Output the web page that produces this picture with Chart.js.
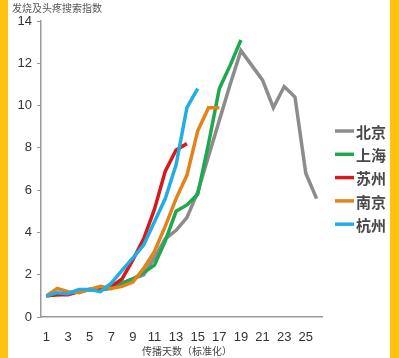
<!DOCTYPE html>
<html>
<head>
<meta charset="utf-8">
<script src="https://cdn.jsdelivr.net/npm/chart.js@4/dist/chart.umd.min.js"></script>
<style>
  body { margin: 0; background: #fff; }
  #wrap { position: relative; width: 399px; height: 358px; overflow: hidden; }
  #chart { position: absolute; left: 0; top: 0; }
  .bar { position: absolute; top: 0; height: 358px; background: #FFC20E; }
</style>
</head>
<body>
<div id="wrap">
  <canvas id="chart" width="399" height="358"></canvas>
  <div class="bar" style="left:0;width:8px"></div>
  <div class="bar" style="left:390px;width:9px"></div>
</div>
<script>
// days since spread start (standardised)
const days = [];
for (let d = 1; d <= 26; d++) days.push(d);

const chartTitle = '发烧及头疼搜索指数';
const xTitle = '传播天数（标准化）';
const cities = ['北京', '上海', '苏州', '南京', '杭州'];
const colors = ['#8C8C8C', '#1FA84F', '#D7191E', '#E2831C', '#21AFE3'];

const beijing = [1.0, 1.05, 1.1, 1.25, 1.3, 1.3, 1.5, 1.6, 1.8, 2.0, 2.8, 3.7, 4.1, 4.7, 5.9, 7.6, 9.3, 11.0, 12.6, 11.9, 11.2, 9.9, 10.9, 10.4, 6.8, 5.6];
const shanghai = [1.0, 1.1, 1.1, 1.2, 1.3, 1.3, 1.35, 1.6, 1.8, 2.1, 2.45, 3.6, 5.0, 5.3, 5.8, 8.2, 10.8, 11.9, 13.1];
const suzhou = [1.0, 1.05, 1.05, 1.2, 1.3, 1.3, 1.45, 1.8, 2.7, 3.7, 5.1, 6.9, 7.9, 8.2];
const nanjing = [1.0, 1.35, 1.2, 1.15, 1.3, 1.45, 1.35, 1.45, 1.65, 2.3, 3.1, 4.3, 5.6, 6.7, 8.8, 9.9, 9.9];
const hangzhou = [1.0, 1.15, 1.1, 1.3, 1.3, 1.2, 1.6, 2.2, 2.8, 3.4, 4.5, 5.6, 7.2, 9.9, 10.8];
const series = [beijing, shanghai, suzhou, nanjing, hangzhou];

const yTicks = [0, 2, 4, 6, 8, 10, 12, 14];

const font = '"Noto Sans CJK SC", "Noto Sans", sans-serif';
const numFont = '"Liberation Sans", Arial, sans-serif';

// title, x axis title and legend drawn on the canvas
const extras = {
  id: 'extras',
  afterDraw(chart) {
    const ctx = chart.ctx;
    ctx.save();
    ctx.fillStyle = '#555';
    ctx.font = '10px ' + font;
    ctx.textBaseline = 'middle';
    ctx.textAlign = 'left';
    ctx.fillText(chartTitle, 12, 8);

    ctx.fillStyle = '#444';
    ctx.textAlign = 'center';
    ctx.fillText(xTitle, 187, 351);

    ctx.textAlign = 'left';
    ctx.font = 'bold 15px ' + font;
    cities.forEach((name, i) => {
      const y = 131 + i * 23.3;
      ctx.strokeStyle = colors[i];
      ctx.lineWidth = 3.5;
      ctx.beginPath();
      ctx.moveTo(335, y);
      ctx.lineTo(354, y);
      ctx.stroke();
      ctx.fillStyle = '#484848';
      ctx.fillText(name, 356, y + 1);
    });
    ctx.restore();
  }
};

new Chart(document.getElementById('chart'), {
  type: 'line',
  data: {
    labels: days,
    datasets: cities.map((name, i) => ({
      label: name,
      data: series[i],
      borderColor: colors[i],
      borderWidth: 3.5,
      pointRadius: 0,
      tension: 0,
      fill: false,
      order: cities.length - i
    }))
  },
  options: {
    responsive: false,
    animation: false,
    layout: { padding: { left: 0, right: 77, top: 21, bottom: 0 } },
    plugins: {
      legend: { display: false },
      tooltip: { enabled: false }
    },
    scales: {
      x: {
        offset: true,
        grid: { display: false },
        border: { display: true, color: '#9a9a9a', width: 1.5 },
        ticks: {
          autoSkip: false,
          maxRotation: 0,
          padding: 5,
          color: '#333',
          font: { size: 13, family: numFont },
          callback: (v, i) => (days[i] % 2 === 1 ? String(days[i]) : '')
        },
        afterFit(scale) { scale.height = 41; }
      },
      y: {
        min: 0,
        max: 14,
        afterBuildTicks(scale) { scale.ticks = yTicks.map(v => ({ value: v })); },
        grid: { drawOnChartArea: false, drawTicks: true, tickLength: 4, color: '#9a9a9a' },
        border: { display: true, color: '#9a9a9a', width: 1.5 },
        ticks: {
          padding: 5,
          color: '#333',
          font: { size: 13, family: numFont }
        },
        afterFit(scale) { scale.width = 41; }
      }
    }
  },
  plugins: [extras]
});
</script>
</body>
</html>
